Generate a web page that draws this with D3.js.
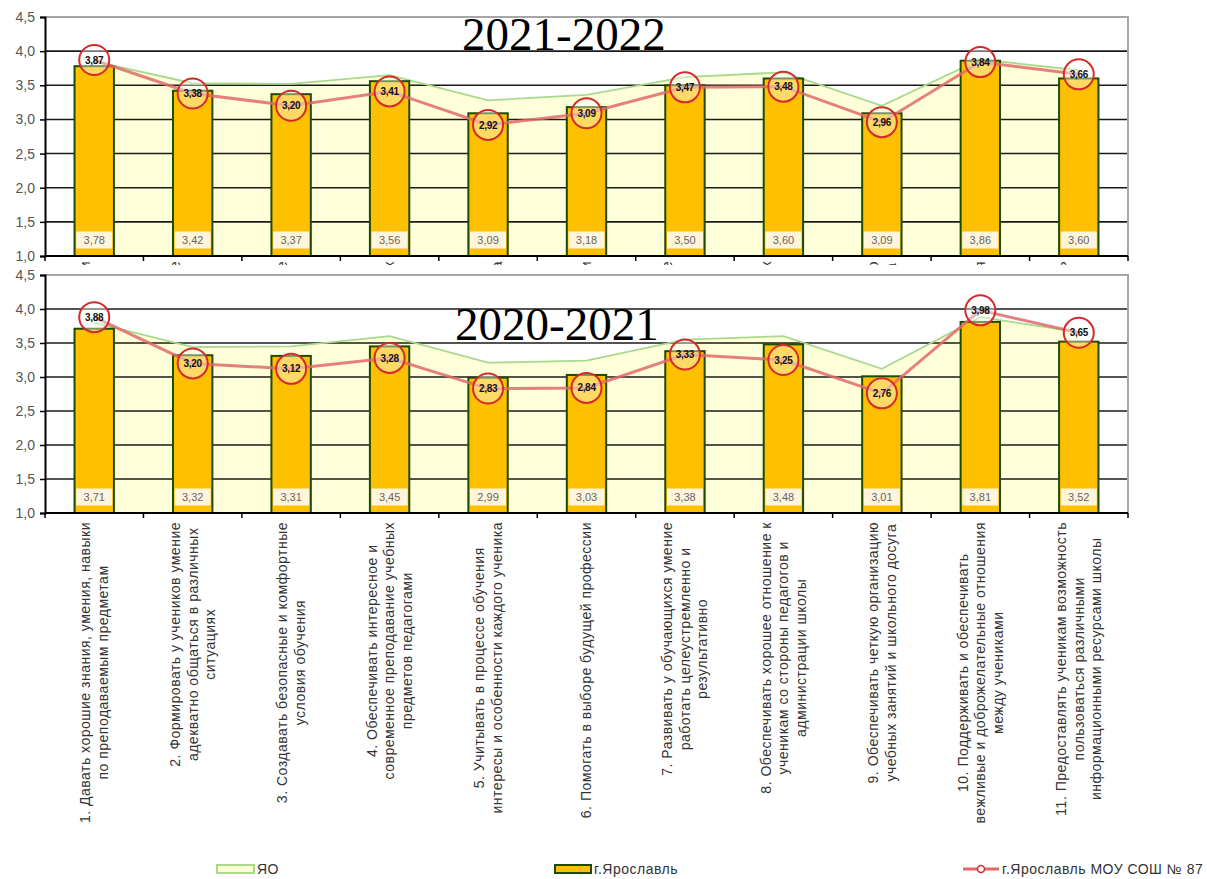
<!DOCTYPE html>
<html>
<head>
<meta charset="utf-8">
<script src="https://cdn.jsdelivr.net/npm/d3@7"></script>
<style>
  body { margin: 0; background: #fff; }
  svg { display: block; font-family: "Liberation Sans", Arial, sans-serif; }
</style>
</head>
<body>
<svg width="1207" height="879"></svg>
<script>
// category labels (multi-line, as in the source chart)
const categories = [
  ['1. Давать хорошие знания, умения, навыки', 'по преподаваемым  предметам'],
  ['2. Формировать у учеников умение', 'адекватно общаться в различных', 'ситуациях'],
  ['3. Создавать безопасные и комфортные', 'условия обучения'],
  ['4. Обеспечивать интересное и', 'современное преподавание учебных', 'предметов педагогами'],
  ['5. Учитывать в процессе обучения', 'интересы и особенности каждого ученика'],
  ['6. Помогать в выборе будущей профессии'],
  ['7. Развивать у обучающихся умение', 'работать целеустремленно и', 'результативно'],
  ['8. Обеспечивать хорошее отношение к', 'ученикам со стороны педагогов и', 'администрации школы'],
  ['9. Обеспечивать четкую организацию', 'учебных занятий и школьного досуга'],
  ['10. Поддерживать и обеспечивать', 'вежливые и доброжелательные отношения', 'между учениками'],
  ['11. Предоставлять ученикам возможность', 'пользоваться различными', 'информационными ресурсами школы']
];

const seriesNames = ['ЯО', 'г.Ярославль', 'г.Ярославль МОУ СОШ № 87'];

// 2021-2022
const yoTop = [3.85, 3.53, 3.52, 3.65, 3.28, 3.36, 3.62, 3.69, 3.20, 3.88, 3.72];
const cityTop = [3.78, 3.42, 3.37, 3.56, 3.09, 3.18, 3.50, 3.60, 3.09, 3.86, 3.60];
const schoolTop = [3.87, 3.38, 3.20, 3.41, 2.92, 3.09, 3.47, 3.48, 2.96, 3.84, 3.66];

// 2020-2021
const yoBottom = [3.80, 3.44, 3.45, 3.60, 3.21, 3.24, 3.55, 3.60, 3.12, 3.88, 3.66];
const cityBottom = [3.71, 3.32, 3.31, 3.45, 2.99, 3.03, 3.38, 3.48, 3.01, 3.81, 3.52];
const schoolBottom = [3.88, 3.20, 3.12, 3.28, 2.83, 2.84, 3.33, 3.25, 2.76, 3.98, 3.65];

const yTicks = [1.0, 1.5, 2.0, 2.5, 3.0, 3.5, 4.0, 4.5];

const locale = d3.formatLocale({decimal: ',', thousands: ' ', grouping: [3], currency: ['', '']});
const f1 = locale.format('.1f');
const f2 = locale.format('.2f');

const svg = d3.select('svg');
const left = 45, right = 1128;

const x = d3.scaleBand()
  .domain(d3.range(categories.length))
  .range([left, right]);
const cx = i => x(i) + x.bandwidth() / 2;
const barW = x.bandwidth() * 0.4;

const panels = [
  {title: '2021-2022', yo: yoTop, city: cityTop, school: schoolTop,
   top: 17, bottom: 256, titleX: 462, titleY: 50, labelGap: 5, clipTo: 265},
  {title: '2020-2021', yo: yoBottom, city: cityBottom, school: schoolBottom,
   top: 275, bottom: 513, titleX: 455, titleY: 340, labelGap: 9, clipTo: 879}
];

panels.forEach((p, k) => {
  const y = d3.scaleLinear().domain([1, 4.5]).range([p.bottom, p.top]);
  const g = svg.append('g');

  // area of the regional series
  g.append('path')
    .datum(p.yo)
    .attr('fill', '#ffffd9')
    .attr('d', d3.area().x((d, i) => cx(i)).y0(y(1)).y1(d => y(d)));

  // gridlines
  g.append('g').selectAll('line')
    .data(yTicks.slice(1, -1))
    .join('line')
      .attr('x1', left).attr('x2', right)
      .attr('y1', d => y(d)).attr('y2', d => y(d))
      .attr('stroke', '#1a1a1a').attr('stroke-width', 1.6);

  // plot border top/right
  g.append('path')
    .attr('d', `M${left},${y(4.5)}H${right}V${y(1)}`)
    .attr('fill', 'none').attr('stroke', '#a6a6a6').attr('stroke-width', 2);

  g.append('path')
    .datum(p.yo)
    .attr('fill', 'none')
    .attr('stroke', '#a9d98c').attr('stroke-width', 1.8)
    .attr('d', d3.line().x((d, i) => cx(i)).y(d => y(d)));

  // bars
  g.append('g').selectAll('rect')
    .data(p.city)
    .join('rect')
      .attr('x', (d, i) => cx(i) - barW / 2)
      .attr('y', d => y(d))
      .attr('width', barW)
      .attr('height', d => y(1) - y(d))
      .attr('fill', '#ffc000')
      .attr('stroke', '#1e4a05').attr('stroke-width', 2);

  const boxes = g.append('g').selectAll('g')
    .data(p.city)
    .join('g')
      .attr('transform', (d, i) => `translate(${cx(i)},${y(1) - 16})`);
  boxes.append('rect')
    .attr('x', -18).attr('y', -8.5).attr('width', 36).attr('height', 17)
    .attr('fill', '#fff5da');
  boxes.append('text')
    .attr('text-anchor', 'middle').attr('dy', '0.36em')
    .attr('font-size', 11).attr('fill', '#666')
    .text(d => f2(d));

  // school line
  g.append('path')
    .datum(p.school)
    .attr('fill', 'none')
    .attr('stroke', '#e06a6a').attr('stroke-width', 3).attr('stroke-opacity', 0.85)
    .attr('d', d3.line().x((d, i) => cx(i)).y(d => y(d)));

  const marks = g.append('g').selectAll('g')
    .data(p.school)
    .join('g')
      .attr('transform', (d, i) => `translate(${cx(i)},${y(d)})`);
  marks.append('circle')
    .attr('r', 15)
    .attr('fill', '#fff').attr('fill-opacity', 0.4)
    .attr('stroke', '#d42a2a').attr('stroke-width', 2);
  marks.append('text')
    .attr('text-anchor', 'middle').attr('dy', '0.36em')
    .attr('font-size', 10).attr('font-weight', 'bold').attr('fill', '#111')
    .attr('letter-spacing', -0.3)
    .text(d => f2(d));

  // y axis
  const ya = g.append('g')
    .attr('transform', `translate(${left},0)`)
    .call(d3.axisLeft(y).tickValues(yTicks).tickFormat(f1).tickSize(5).tickPadding(5));
  ya.select('.domain').attr('stroke', '#000').attr('stroke-width', 2);
  ya.selectAll('.tick line').attr('stroke', '#000').attr('stroke-width', 1.5);
  ya.selectAll('.tick text')
    .attr('font-size', 14).attr('fill', '#555')
    .attr('font-family', '"Liberation Sans", Arial, sans-serif');

  // x axis
  g.append('line')
    .attr('x1', left).attr('x2', right)
    .attr('y1', y(1)).attr('y2', y(1))
    .attr('stroke', '#000').attr('stroke-width', 2);
  g.append('g').selectAll('line')
    .data(d3.range(categories.length + 1))
    .join('line')
      .attr('x1', i => left + i * x.step()).attr('x2', i => left + i * x.step())
      .attr('y1', y(1)).attr('y2', y(1) + 5)
      .attr('stroke', '#000').attr('stroke-width', 1.5);

  // category labels (clipped for the upper panel)
  const clipId = 'clip' + k;
  svg.append('clipPath').attr('id', clipId)
    .append('rect').attr('x', 0).attr('y', y(1)).attr('width', 1207).attr('height', p.clipTo - y(1));
  const lab = g.append('g').attr('clip-path', `url(#${clipId})`)
    .selectAll('g')
    .data(categories)
    .join('g')
      .attr('transform', (d, i) => `translate(${cx(i)},${y(1) + p.labelGap}) rotate(-90)`);
  const lineH = 17.5;
  lab.each(function(lines) {
    const t = d3.select(this).append('text')
      .attr('font-size', 14).attr('fill', '#333')
      .attr('letter-spacing', 0.5)
      .attr('text-anchor', 'middle');
    lines.forEach((s, j) => {
      t.append('tspan')
        .attr('y', (j - (lines.length - 1) / 2) * lineH)
        .attr('dy', '0.35em')
        .text(s);
    });
    let w = 0;
    t.selectAll('tspan').each(function() { w = Math.max(w, this.getComputedTextLength()); });
    t.selectAll('tspan').attr('x', -w / 2);
  });

  // title
  g.append('text')
    .attr('x', p.titleX).attr('y', p.titleY)
    .attr('font-family', '"Liberation Serif", "Times New Roman", serif')
    .attr('font-size', 47).attr('fill', '#000')
    .text(p.title);
});

// legend
const legend = svg.append('g').attr('transform', 'translate(0,869)');
const l0 = legend.append('g').attr('transform', 'translate(217,0)');
l0.append('rect').attr('x', 0).attr('y', -4).attr('width', 37).attr('height', 8)
  .attr('fill', '#ffffd9').attr('stroke', '#a9d98c').attr('stroke-width', 2);
l0.append('text').attr('x', 40).attr('dy', '0.35em').attr('font-size', 14)
  .attr('letter-spacing', 0.5).attr('fill', '#333').text(seriesNames[0]);

const l1 = legend.append('g').attr('transform', 'translate(555,0)');
l1.append('rect').attr('x', 0).attr('y', -4).attr('width', 36).attr('height', 8)
  .attr('fill', '#ffc000').attr('stroke', '#1e4a05').attr('stroke-width', 2);
l1.append('text').attr('x', 39).attr('dy', '0.35em').attr('font-size', 14)
  .attr('letter-spacing', 0.5).attr('fill', '#333').text(seriesNames[1]);

const l2 = legend.append('g').attr('transform', 'translate(963,0)');
l2.append('line').attr('x1', 0).attr('x2', 36).attr('stroke', '#e06a6a').attr('stroke-width', 3);
l2.append('circle').attr('cx', 18).attr('r', 3.5).attr('fill', '#fff').attr('stroke', '#d42a2a').attr('stroke-width', 1.5);
l2.append('text').attr('x', 39).attr('dy', '0.35em').attr('font-size', 14)
  .attr('letter-spacing', 0.5).attr('fill', '#333').text(seriesNames[2]);
</script>
</body>
</html>
